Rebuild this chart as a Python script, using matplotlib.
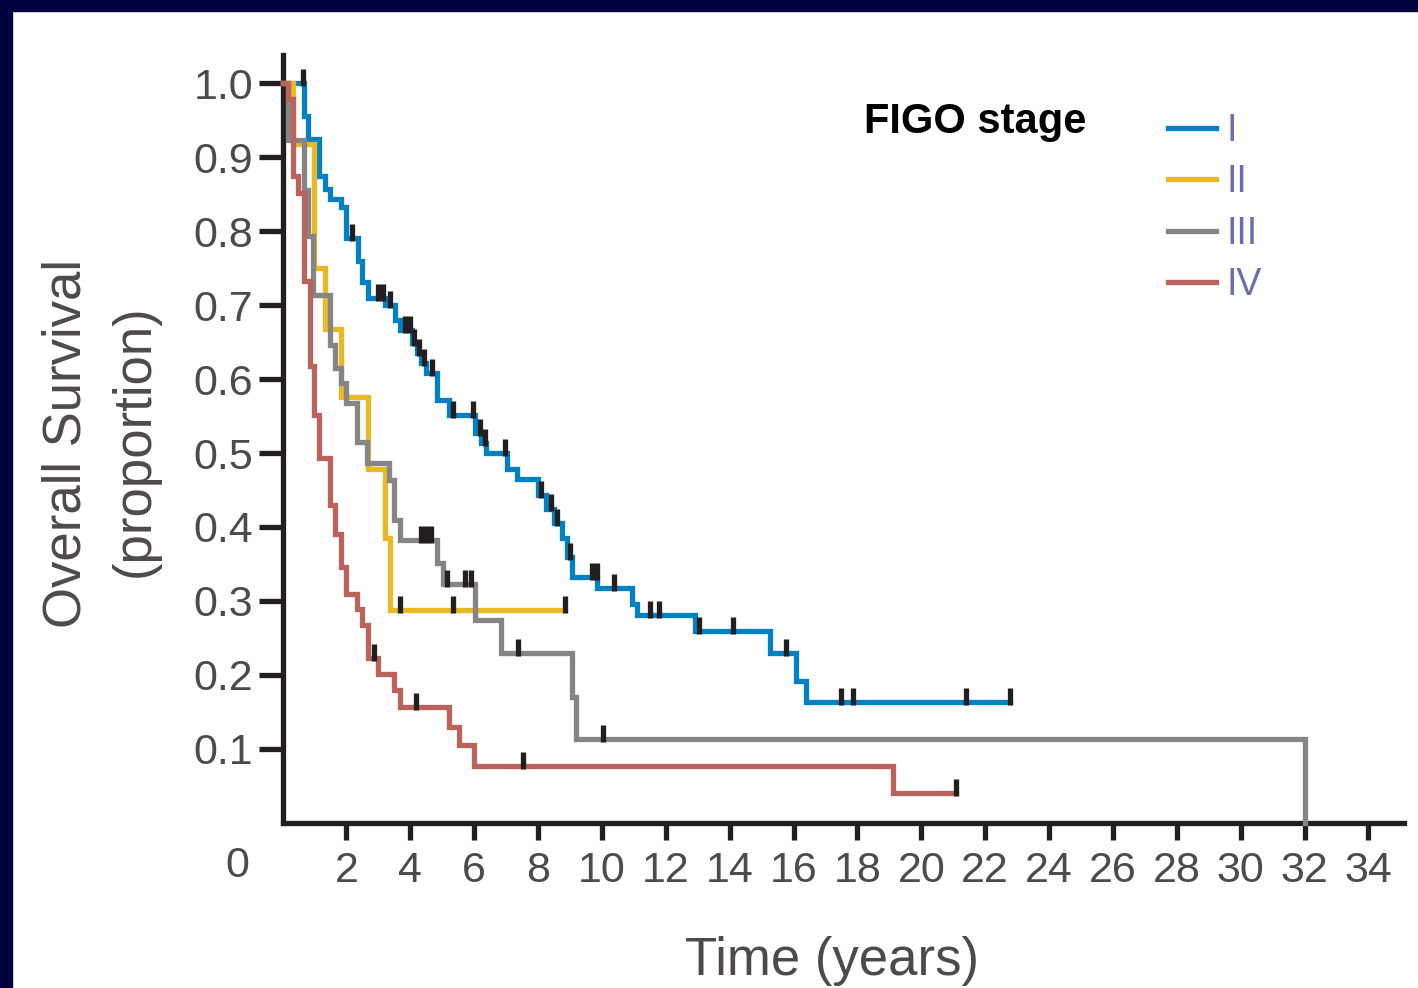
import numpy as np
import matplotlib
matplotlib.use("Agg")
import matplotlib.pyplot as plt
from matplotlib import font_manager as fm
from matplotlib.patches import Rectangle

# Kaplan-Meier curves by FIGO stage.
# *_t: event times (years), *_s: survival after that event,
# *_cens: censoring times, *_end: last follow-up time.
stage1_t = [0.67, 0.81, 1.13, 1.33, 1.50, 1.83, 2.00, 2.35, 2.50, 2.68, 3.20, 3.52, 3.68,
            4.05, 4.20, 4.35, 4.49, 4.85, 5.20, 6.02, 6.20, 6.38, 7.03, 7.35, 8.00, 8.25,
            8.50, 8.75, 8.90, 9.05, 9.86, 10.95, 11.10, 12.90, 15.25, 16.07, 16.39]
stage1_s = [0.955, 0.925, 0.874, 0.857, 0.843, 0.832, 0.790, 0.760, 0.731, 0.709, 0.700,
            0.680, 0.666, 0.648, 0.635, 0.622, 0.608, 0.572, 0.551, 0.527, 0.513, 0.500,
            0.478, 0.465, 0.443, 0.425, 0.405, 0.385, 0.360, 0.333, 0.318, 0.296, 0.281,
            0.259, 0.230, 0.192, 0.164]
stage1_cens = [0.64, 2.19, 2.99, 3.15, 3.38, 3.85, 3.98, 4.12, 4.28, 4.42, 4.68, 5.35,
               5.97, 6.18, 6.35, 6.98, 8.10, 8.40, 8.60, 9.00, 9.70, 9.85, 10.38, 11.50,
               11.80, 13.05, 14.10, 15.75, 17.50, 17.85, 21.40, 22.78]
stage1_end = 22.78

stage2_t = [0.33, 1.00, 1.33, 1.83, 2.69, 3.20, 3.37]
stage2_s = [0.917, 0.750, 0.667, 0.576, 0.479, 0.385, 0.288]
stage2_cens = [3.68, 5.35, 8.86]
stage2_end = 8.86

stage3_t = [0.17, 0.66, 0.81, 0.97, 1.50, 1.65, 1.82, 1.98, 2.32, 2.66, 3.35, 3.50, 3.68,
            4.85, 5.02, 6.04, 6.84, 9.05, 9.20, 32.0]
stage3_s = [0.923, 0.855, 0.793, 0.713, 0.646, 0.615, 0.595, 0.567, 0.515, 0.486, 0.463,
            0.410, 0.382, 0.351, 0.323, 0.274, 0.230, 0.170, 0.114, 0.0]
stage3_cens = [4.35, 4.50, 4.65, 5.16, 5.70, 5.90, 7.36, 10.05]
stage3_end = 32.0

stage4_t = [0.16, 0.33, 0.50, 0.66, 0.85, 0.99, 1.14, 1.50, 1.64, 1.82, 2.00, 2.33, 2.50,
            2.69, 3.00, 3.50, 3.68, 5.20, 5.54, 6.01, 19.10]
stage4_s = [0.978, 0.874, 0.851, 0.733, 0.618, 0.551, 0.493, 0.430, 0.390, 0.346, 0.309,
            0.289, 0.268, 0.223, 0.201, 0.180, 0.157, 0.130, 0.105, 0.077, 0.040]
stage4_cens = [2.85, 4.18, 7.53, 21.09]
stage4_end = 21.09

stage_names = ["I", "II", "III", "IV"]
stage_colors = ["#0080c5", "#e8b923", "#858585", "#b9635c"]

x_ticks = list(range(2, 35, 2))
y_ticks = [0.1, 0.2, 0.3, 0.4, 0.5, 0.6, 0.7, 0.8, 0.9, 1.0]

W, H = 1418, 988
navy = "#000040"
ink = "#231f20"
grey_txt = "#4f4a4a"
legend_txt = "#6b6bb0"
LW = 3.8


def fx(px):
    return px / W


def fy(py):
    return 1 - py / H


names = {f.name for f in fm.fontManager.ttflist}
if "Liberation Sans Narrow" in names:
    lab_family, lab_size = "Liberation Sans Narrow", 47
else:
    lab_family, lab_size = "Liberation Sans", 38

fig = plt.figure(figsize=(W / 100, H / 100), dpi=100)
fig.patch.set_facecolor("white")
fig.patches.append(Rectangle((0, 0), fx(12), 1, transform=fig.transFigure,
                             color=navy, zorder=0))
fig.patches.append(Rectangle((0, fy(11)), 1, 11 / H, transform=fig.transFigure,
                             color=navy, zorder=0))

ax = fig.add_axes([fx(282.5), fy(823), fx(1404) - fx(282.5), fy(55) - fy(823)])
ax.set_xlim(0, (1404 - 282.5) / 31.94)
ax.set_ylim(0, (823 - 55) / 740)

curves = [
    (stage1_t, stage1_s, stage1_cens, stage1_end),
    (stage2_t, stage2_s, stage2_cens, stage2_end),
    (stage3_t, stage3_s, stage3_cens, stage3_end),
    (stage4_t, stage4_s, stage4_cens, stage4_end),
]

handles = []
for i, ((t, s, cens, end), name, col) in enumerate(zip(curves, stage_names, stage_colors)):
    tt = np.concatenate([[0.0], t, [end]])
    ss = np.concatenate([[1.0], s, [s[-1]]])
    line, = ax.step(tt, ss, where="post", color=col, lw=LW, label=name,
                    zorder=2 + i, clip_on=False, solid_joinstyle="miter")
    handles.append(line)
    # censor marks sit on the curve at the survival level of that time
    cv = ss[np.searchsorted(tt, cens, side="right") - 1]
    ax.vlines(cens, cv - 0.004, cv + 0.019, color=ink, lw=LW, zorder=10, clip_on=False)

for side in ["top", "right"]:
    ax.spines[side].set_visible(False)
for side in ["left", "bottom"]:
    ax.spines[side].set_linewidth(LW)
    ax.spines[side].set_color(ink)

ax.set_xticks(x_ticks)
ax.set_xticklabels([str(v) for v in x_ticks])
ax.set_yticks(y_ticks)
ax.set_yticklabels([f"{v:.1f}" for v in y_ticks])
ax.tick_params(axis="x", direction="out", length=12.5, width=LW, pad=8,
               color=ink, labelcolor=grey_txt, labelsize=31)
ax.tick_params(axis="y", direction="out", length=17.6, width=LW, pad=3.6,
               color=ink, labelcolor=grey_txt, labelsize=31)
for lab in ax.get_xticklabels() + ax.get_yticklabels():
    lab.set_family("Liberation Sans")

ax.annotate("0", xy=(0, 0), xycoords="data", xytext=(-32.8, -31),
            textcoords="offset points", ha="center", va="center",
            fontsize=31, color=grey_txt, family="Liberation Sans")

fig.text(fx(67), fy(443), "Overall Survival", rotation=90, ha="center", va="center",
         fontsize=lab_size, color=grey_txt, family=lab_family)
fig.text(fx(135), fy(441), "(proportion)", rotation=90, ha="center", va="center",
         fontsize=lab_size, color=grey_txt, family=lab_family)
fig.text(fx(832), fy(975), "Time (years)", ha="center", va="baseline",
         fontsize=lab_size, color=grey_txt, family=lab_family)

fig.text(fx(975), fy(133), "FIGO stage", ha="center", va="baseline", fontsize=30,
         fontweight="bold", color="black", family="Liberation Sans")

leg = ax.legend(handles=handles, loc="upper left",
                bbox_to_anchor=(fx(1168), fy(113)), bbox_transform=fig.transFigure,
                frameon=False, borderpad=0, borderaxespad=0,
                handlelength=1.28, handletextpad=0.28, labelspacing=0.41,
                prop={"family": "Liberation Sans", "size": 27},
                labelcolor=legend_txt)

fig.savefig("out.png", dpi=100, facecolor=fig.get_facecolor())
